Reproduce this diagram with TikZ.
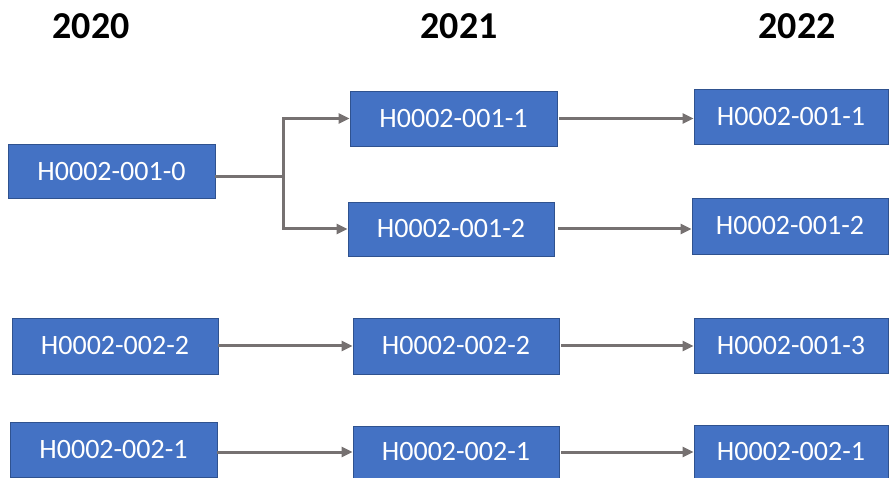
\documentclass[tikz,border=0pt]{standalone}
\usepackage{fontspec}
\setmainfont{Carlito}
\usetikzlibrary{arrows.meta}
\definecolor{boxblue}{HTML}{4472C4}
\definecolor{boxedge}{HTML}{2F528F}
\definecolor{arrowgray}{HTML}{767171}
\begin{document}
\begin{tikzpicture}[x=1pt,y=-1pt,
 idbox/.style={fill=boxblue,draw=boxedge,line width=0.8pt,text=white,
   font=\fontsize{28}{32}\selectfont,inner sep=0pt},
 yearlabel/.style={font=\fontsize{38}{44}\selectfont\bfseries,anchor=base},
 trunk/.style={draw=arrowgray,line width=3pt},
 link/.style={draw=arrowgray,line width=3pt,-{Triangle[length=11pt,width=10pt]}},
]
\useasboundingbox (0,0) rectangle (889,478);
% year headers
\node[yearlabel] (y20) at (91,39) {2020};
\node[yearlabel] (y21) at (459,39) {2021};
\node[yearlabel] (y22) at (797,39) {2022};
% 2020
\node[idbox,minimum width=207pt,minimum height=54pt] (A0) at (111.5,171.5) {H0002-001-0};
\node[idbox,minimum width=206pt,minimum height=56pt] (A3) at (115,346) {H0002-002-2};
\node[idbox,minimum width=207pt,minimum height=55pt] (A4) at (113.5,449.5) {H0002-002-1};
% 2021
\node[idbox,minimum width=207pt,minimum height=55pt] (B1) at (453.5,118.5) {H0002-001-1};
\node[idbox,minimum width=206pt,minimum height=54pt] (B2) at (451,229) {H0002-001-2};
\node[idbox,minimum width=206pt,minimum height=56pt] (B3) at (456,346) {H0002-002-2};
\node[idbox,minimum width=206pt,minimum height=52pt] (B4) at (456,452) {H0002-002-1};
% 2022
\node[idbox,minimum width=194pt,minimum height=55pt] (C1) at (791,116.5) {H0002-001-1};
\node[idbox,minimum width=196pt,minimum height=56pt] (C2) at (790,226) {H0002-001-2};
\node[idbox,minimum width=194pt,minimum height=55pt] (C3) at (791,345.5) {H0002-001-3};
\node[idbox,minimum width=194pt,minimum height=53pt] (C4) at (791,451.5) {H0002-002-1};
% connectors
\coordinate (fork) at (283,177);
\draw[trunk] (A0.east |- fork) -- (fork);
\draw[link] (fork) |- (B1.west);
\draw[link] (fork) |- (B2.west);
\draw[link,shorten <=2pt] (B1.east) -- (B1.east -| C1.west);
\draw[link,shorten <=4pt] (B2.east) -- (B2.east -| C2.west);
\draw[link] (A3.east) -- (A3.east -| B3.west);
\draw[link,shorten <=2pt] (B3.east) -- (B3.east -| C3.west);
\draw[link] (A4.east |- B4.west) -- (B4.west);
\draw[link,shorten <=2pt] (B4.east) -- (B4.east -| C4.west);
\end{tikzpicture}
\end{document}
